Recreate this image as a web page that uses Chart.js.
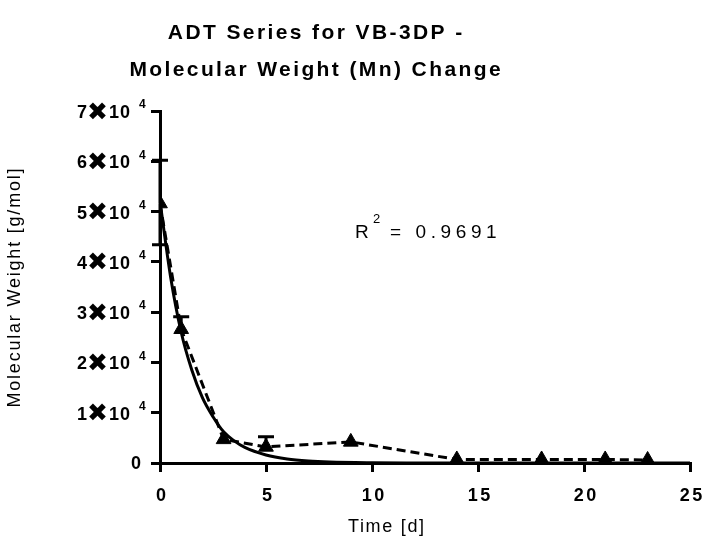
<!DOCTYPE html>
<html><head><meta charset="utf-8">
<script src="https://cdn.jsdelivr.net/npm/chart.js@4"></script>
<style>html,body{margin:0;padding:0;background:#fff}#wrap{width:708px;height:545px}</style>
</head><body><div id="wrap"><canvas id="c" width="708" height="545"></canvas></div>
<script>
// Data
const timeDays = [0, 1, 3, 5, 9, 14, 18, 21, 23];
const meanMn = [51600, 26600, 4700, 3200, 4200, 700, 700, 700, 600];
const errUp = [8600, 2500, 0, 2000, 0, 0, 0, 0, 0];
const errDown = [8200, 0, 0, 0, 0, 0, 0, 0, 0];
const fitT = [0, 0.5, 1, 1.5, 2, 2.5, 3, 3.5, 4, 5, 6, 7, 8, 10, 12, 15, 20, 25];
const fitMn = [52000, 37000, 26000, 18500, 13000, 9200, 6200, 4400, 3100, 1600, 800, 400, 200, 60, 20, 5, 0, 0];
const yTicks = [0, 10000, 20000, 30000, 40000, 50000, 60000, 70000];
const xTicks = [0, 5, 10, 15, 20, 25];
const titleLines = ['ADT Series for VB-3DP -', 'Molecular Weight (Mn) Change'];
const fitLabel = '0.9691';

const FONT = '"Liberation Sans", Arial, "DejaVu Sans", sans-serif';
const XFONT = 'bold 25px "DejaVu Sans", sans-serif';

function txt(ctx, s, x, y, font, align, spacing) {
  ctx.save();
  ctx.font = font;
  ctx.letterSpacing = (spacing || 0) + 'px';
  ctx.fillStyle = '#000';
  ctx.textBaseline = 'middle';
  let w = ctx.measureText(s).width;
  let sx = x;
  if (align === 'center') sx = x - (w - (spacing||0)) / 2;
  else if (align === 'right') sx = x - (w - (spacing||0));
  ctx.textAlign = 'left';
  ctx.fillText(s, sx, y);
  ctx.restore();
  return w;
}

const decor = {
  id: 'decor',
  afterDatasetsDraw(chart) {
    const ctx = chart.ctx;
    const xs = chart.scales.x, ys = chart.scales.y;
    ctx.save();
    ctx.strokeStyle = '#000';
    ctx.lineWidth = 3;
    timeDays.forEach((t, i) => {
      const px = xs.getPixelForValue(t);
      const mid = ys.getPixelForValue(meanMn[i]);
      if (errUp[i]) {
        const top = ys.getPixelForValue(meanMn[i] + errUp[i]);
        ctx.beginPath();
        ctx.moveTo(px, mid); ctx.lineTo(px, top);
        ctx.moveTo(px - 8, top); ctx.lineTo(px + 8, top);
        ctx.stroke();
      }
      if (errDown[i]) {
        const bot = ys.getPixelForValue(meanMn[i] - errDown[i]);
        ctx.beginPath();
        ctx.moveTo(px, mid); ctx.lineTo(px, bot);
        ctx.moveTo(px - 8, bot); ctx.lineTo(px + 8, bot);
        ctx.stroke();
      }
    });
    ctx.restore();
  },
  afterDraw(chart) {
    const ctx = chart.ctx;
    const xs = chart.scales.x, ys = chart.scales.y;
    // title
    txt(ctx, titleLines[0], 315, 33, 'bold 21px ' + FONT, 'center', 2.4);
    txt(ctx, titleLines[1], 315, 70, 'bold 21px ' + FONT, 'center', 2.4);
    // y tick labels
    ctx.save(); ctx.font = XFONT; const wx = ctx.measureText('\u2716').width; ctx.restore();
    yTicks.forEach(v => {
      const py = ys.getPixelForValue(v);
      if (v === 0) {
        txt(ctx, '0', 141, py + 1, 'bold 18px ' + FONT, 'right', 0);
      } else {
        const n = v / 10000;
        const w10 = txt(ctx, '10', 130, py + 2, 'bold 18px ' + FONT, 'right', 1);
        txt(ctx, '\u2716', 130 - w10, py + 2, XFONT, 'right', 0);
        txt(ctx, String(n), 130 - w10 - wx, py + 2, 'bold 18px ' + FONT, 'right', 0);
        txt(ctx, '4', 139, py - 6, 'bold 12px ' + FONT, 'left', 0);
      }
    });
    // x tick labels
    xTicks.forEach(v => {
      const px = xs.getPixelForValue(v);
      txt(ctx, String(v), px + 1, 496, 'bold 18px ' + FONT, 'center', 2.5);
    });
    // axis titles
    txt(ctx, 'Time [d]', 386, 527, '18px ' + FONT, 'center', 1.7);
    ctx.save();
    ctx.translate(15, 288);
    ctx.rotate(-Math.PI / 2);
    txt(ctx, 'Molecular Weight [g/mol]', 0, 0, '18px ' + FONT, 'center', 1.8);
    ctx.restore();
    // R^2
    txt(ctx, 'R', 355, 233, '19px ' + FONT, 'left', 0);
    txt(ctx, '2', 373, 219, '13px ' + FONT, 'left', 0);
    txt(ctx, '= ' + fitLabel, 390, 233, '19px ' + FONT, 'left', 4.6);
  }
};

new Chart(document.getElementById('c'), {
  data: {
    datasets: [
      {
        type: 'line',
        data: fitT.map((t, i) => ({x: t, y: fitMn[i]})),
        borderColor: '#000', borderWidth: 3, pointRadius: 0,
        cubicInterpolationMode: 'monotone', fill: false, order: 2
      },
      {
        type: 'line',
        data: timeDays.map((t, i) => ({x: t, y: meanMn[i]})),
        borderColor: '#000', borderWidth: 3, borderDash: [9, 5],
        pointStyle: 'triangle', pointRadius: 8.5, pointBackgroundColor: '#000',
        pointBorderColor: '#000', pointBorderWidth: 1, tension: 0, fill: false, order: 1
      }
    ]
  },
  options: {
    responsive: false, animation: false, devicePixelRatio: 1,
    layout: { padding: { left: 0, top: 111, right: 18, bottom: 0 } },
    plugins: { legend: { display: false }, title: { display: false }, tooltip: { enabled: false } },
    scales: {
      x: {
        type: 'linear', min: 0, max: 25,
        afterBuildTicks: s => { s.ticks = xTicks.map(v => ({value: v})); },
        afterFit: s => { s.height = 82; },
        ticks: { display: false },
        grid: { drawOnChartArea: false, drawTicks: true, tickLength: 9, lineWidth: 3, color: '#000' },
        border: { display: true, width: 3, color: '#000' }
      },
      y: {
        type: 'linear', min: 0, max: 70000,
        afterBuildTicks: s => { s.ticks = yTicks.map(v => ({value: v})); },
        afterFit: s => { s.width = 160; },
        ticks: { display: false },
        grid: { drawOnChartArea: false, drawTicks: true, tickLength: 9, lineWidth: 3, color: '#000' },
        border: { display: true, width: 3, color: '#000' }
      }
    }
  },
  plugins: [decor]
});
</script></body></html>
